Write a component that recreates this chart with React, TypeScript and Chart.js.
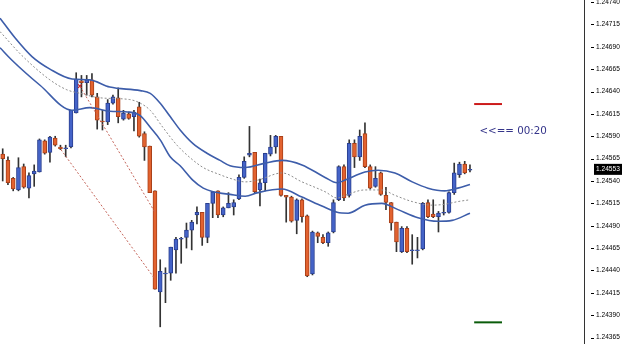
import React, { useEffect, useRef } from "react";
import { Chart, registerables } from "chart.js";

Chart.register(...registerables);

// ---- candle data (price) ----
const OPEN = [
  1.2457, 1.24563, 1.24543, 1.2453, 1.24556, 1.24532, 1.24548, 1.2455, 1.24585, 1.24572,
  1.24588, 1.24578, 1.24576, 1.24578, 1.24616, 1.24652, 1.2465, 1.24653, 1.24634, 1.24607,
  1.24606, 1.24627, 1.24633, 1.24609, 1.24615, 1.24612, 1.24623, 1.24593, 1.24579, 1.24529,
  1.24416, 1.24436, 1.24437, 1.24463, 1.24475, 1.24477, 1.24485, 1.24502, 1.24505, 1.24477,
  1.24515, 1.24529, 1.24502, 1.2451, 1.24511, 1.2452, 1.24544, 1.24569, 1.24572, 1.2453,
  1.24538, 1.2457, 1.24578, 1.2459, 1.24524, 1.24522, 1.24496, 1.24519, 1.24501, 1.24436,
  1.24482, 1.24477, 1.24471, 1.24483, 1.24519, 1.24556, 1.24524, 1.24582, 1.24567, 1.24593,
  1.24556, 1.24534, 1.24549, 1.24524, 1.24516, 1.24494, 1.24461, 1.24487, 1.24462, 1.24462,
  1.24464, 1.24516, 1.24503, 1.245, 1.24504, 1.24505, 1.24527, 1.24547, 1.24559, 1.24552,
];
const HIGH = [
  1.24576, 1.24567, 1.24544, 1.24566, 1.24559, 1.24549, 1.24558, 1.24587, 1.24586, 1.2459,
  1.2459, 1.2458, 1.2458, 1.24619, 1.24661, 1.24658, 1.24658, 1.2466, 1.24638, 1.24619,
  1.24631, 1.24636, 1.24644, 1.24619, 1.24617, 1.24619, 1.24628, 1.24595, 1.24579, 1.24529,
  1.24452, 1.24443, 1.24466, 1.24477, 1.24477, 1.24493, 1.24496, 1.24511, 1.24505, 1.24515,
  1.24528, 1.24529, 1.24511, 1.24527, 1.24519, 1.24547, 1.24567, 1.24601, 1.24572, 1.24542,
  1.24571, 1.24591, 1.24591, 1.2459, 1.24524, 1.24523, 1.2452, 1.2452, 1.24502, 1.24484,
  1.24483, 1.2448, 1.24483, 1.24519, 1.24557, 1.24558, 1.24586, 1.24586, 1.24597, 1.24605,
  1.24558, 1.24556, 1.2455, 1.24533, 1.24516, 1.24494, 1.24489, 1.24489, 1.2448, 1.24477,
  1.24516, 1.24519, 1.24519, 1.24506, 1.24519, 1.24528, 1.2456, 1.24561, 1.24562, 1.24558,
];
const LOW = [
  1.2454, 1.24536, 1.24529, 1.24529, 1.24532, 1.24521, 1.24534, 1.2455, 1.2457, 1.24561,
  1.24579, 1.24575, 1.24567, 1.24577, 1.24616, 1.24634, 1.24636, 1.24634, 1.24598, 1.24597,
  1.24603, 1.24626, 1.24605, 1.24608, 1.24609, 1.24596, 1.24589, 1.24563, 1.24527, 1.24419,
  1.24377, 1.24404, 1.24429, 1.24437, 1.24448, 1.24465, 1.24463, 1.24492, 1.24468, 1.24471,
  1.24499, 1.24499, 1.245, 1.2451, 1.24502, 1.24519, 1.24543, 1.24567, 1.24527, 1.24512,
  1.24529, 1.24568, 1.24571, 1.24523, 1.24494, 1.24494, 1.24481, 1.24494, 1.24433, 1.24435,
  1.24471, 1.2447, 1.24467, 1.24482, 1.24518, 1.24518, 1.24522, 1.24555, 1.24563, 1.24555,
  1.24531, 1.24533, 1.24524, 1.24508, 1.24485, 1.24461, 1.2446, 1.2446, 1.24447, 1.24454,
  1.24463, 1.24499, 1.24499, 1.24483, 1.24502, 1.24504, 1.24525, 1.24544, 1.24548, 1.2455,
];
const CLOSE = [
  1.24565, 1.24538, 1.24531, 1.24555, 1.24533, 1.24546, 1.24551, 1.24586, 1.24571, 1.24589,
  1.2458, 1.24576, 1.24577, 1.24619, 1.24654, 1.2465, 1.24653, 1.24636, 1.24608, 1.24606,
  1.24627, 1.24634, 1.24612, 1.24616, 1.2461, 1.24617, 1.2459, 1.24578, 1.24527, 1.24419,
  1.24439, 1.24437, 1.24466, 1.24475, 1.24476, 1.24485, 1.24494, 1.24505, 1.24477, 1.24515,
  1.24528, 1.24502, 1.2451, 1.24515, 1.24516, 1.24544, 1.24562, 1.24571, 1.24528, 1.24538,
  1.24571, 1.24578, 1.2459, 1.24524, 1.24522, 1.24495, 1.24519, 1.245, 1.24434, 1.24483,
  1.24478, 1.24471, 1.24482, 1.24516, 1.24556, 1.24521, 1.24582, 1.24567, 1.2459, 1.24556,
  1.24532, 1.24543, 1.24525, 1.24516, 1.24493, 1.24472, 1.24487, 1.24461, 1.24463, 1.24463,
  1.24515, 1.245, 1.245, 1.24504, 1.24505, 1.24527, 1.24549, 1.24559, 1.24549, 1.24553,
];

// ---- channel lines (bar index, price) ----
const UPPER_IDX = [-0.51, 2.34, 5.58, 9.0, 13.2, 16.6, 20.4, 26.2, 28.1, 30.0, 31.9, 33.8, 36.2, 38.9, 41.4, 43.3, 46.2, 50.0, 53.2, 57.0, 61.4, 63.7, 65.2, 69.0, 71.5, 74.7, 78.0, 81.0, 84.2, 86.7, 89.0];
const UPPER_VAL = [1.24722, 1.247, 1.24679, 1.24665, 1.24654, 1.24653, 1.24645, 1.24641, 1.24638, 1.24627, 1.24612, 1.24597, 1.24582, 1.24571, 1.24563, 1.24557, 1.24555, 1.2456, 1.24563, 1.24558, 1.24544, 1.24538, 1.24541, 1.2455, 1.24552, 1.24549, 1.24539, 1.24532, 1.24529, 1.24532, 1.24536];
const MIDDLE_IDX = [-0.51, 3.7, 9.0, 12.2, 14.7, 18.5, 24.2, 26.2, 28.1, 30.5, 33.2, 35.7, 38.2, 41.4, 43.3, 46.2, 48.6, 53.2, 57.0, 61.4, 63.7, 65.2, 69.0, 72.2, 74.7, 78.0, 81.8, 84.2, 86.7, 89.0];
const MIDDLE_VAL = [1.24707, 1.2468, 1.24653, 1.24642, 1.24638, 1.24633, 1.24631, 1.24627, 1.24619, 1.246, 1.2458, 1.24566, 1.24555, 1.24547, 1.24543, 1.24539, 1.24541, 1.24549, 1.24539, 1.24528, 1.24521, 1.24524, 1.2453, 1.2453, 1.24524, 1.24517, 1.24513, 1.24514, 1.24517, 1.24519];
const LOWER_IDX = [-0.51, 1.77, 7.11, 13.2, 16.6, 20.4, 24.2, 26.2, 28.1, 30.0, 31.9, 33.8, 36.2, 38.2, 40.1, 43.3, 46.2, 48.6, 53.2, 57.0, 60.8, 63.7, 65.8, 69.0, 72.2, 75.3, 79.1, 82.9, 85.6, 89.0];
const LOWER_VAL = [1.24689, 1.24675, 1.24647, 1.24619, 1.24622, 1.24618, 1.24617, 1.24613, 1.246, 1.24586, 1.24567, 1.24557, 1.24541, 1.24532, 1.24528, 1.24525, 1.24523, 1.24527, 1.24531, 1.24522, 1.24512, 1.24505, 1.24504, 1.24513, 1.24515, 1.24508, 1.24499, 1.24495, 1.24496, 1.24504];

// ---- trend lines / marks ----
const TREND_A_IDX = [14.7, 29.0];
const TREND_A_VAL = [1.24646, 1.24505];
const TREND_B_IDX = [11.1, 28.8];
const TREND_B_VAL = [1.24575, 1.24432];
const MARKER_IDX = [14.7];
const MARKER_VAL = [1.24646];
const LEVEL_IDX = [89.8, 95.1];
const RED_LEVEL = 1.24626;
const GREEN_LEVEL = 1.24382;
const TIMER_TEXT = "<<== 00:20";
const TIMER_IDX = 90.8;
const TIMER_VAL = 1.24596;
const CURRENT_PRICE = 1.24553;

// ---- axis ----
const Y_TICKS = [
  1.24365, 1.2439, 1.24415, 1.2444, 1.24465, 1.2449, 1.24515, 1.2454,
  1.24565, 1.2459, 1.24615, 1.2464, 1.24665, 1.2469, 1.24715, 1.2474,
];
const Y_MIN = 1.243578;
const Y_MAX = 1.247423;
const X_MIN = -0.514;
const X_MAX = 110.72;

const BLUE = "#4463c8";
const BLUE_EDGE = "#2a3f8f";
const ORANGE = "#e2622f";
const ORANGE_EDGE = "#a8401a";
const BAND = "#3d5daa";

function pts(xs: number[], ys: number[]) {
  return xs.map((x, i) => ({ x, y: ys[i] }));
}

const overlay = {
  id: "overlay",
  afterDraw(chart: any) {
    const { ctx } = chart;
    const xs = chart.scales.x;
    const ys = chart.scales.y;
    ctx.save();
    ctx.strokeStyle = "#000";
    ctx.lineWidth = 1;
    ys.ticks.forEach((t: any) => {
      const y = Math.round(ys.getPixelForValue(t.value)) + 0.5;
      ctx.beginPath();
      ctx.moveTo(ys.left + 7, y);
      ctx.lineTo(ys.left + 10, y);
      ctx.stroke();
    });
    const py = ys.getPixelForValue(CURRENT_PRICE);
    ctx.fillStyle = "#000";
    ctx.fillRect(ys.left + 10, py - 5.5, 28, 11);
    ctx.fillStyle = "#fff";
    ctx.font = '6.6px "Liberation Sans"';
    ctx.textBaseline = "middle";
    ctx.textAlign = "left";
    ctx.fillText(CURRENT_PRICE.toFixed(5), ys.left + 12, py);
    ctx.fillStyle = "#35358a";
    ctx.font = '10.3px "DejaVu Sans"';
    ctx.fillText(TIMER_TEXT, xs.getPixelForValue(TIMER_IDX), ys.getPixelForValue(TIMER_VAL));
    ctx.restore();
  },
};

export default function App() {
  const ref = useRef<HTMLCanvasElement>(null);
  useEffect(() => {
    const canvas = ref.current!;
    const idx = OPEN.map((_, i) => i);
    const up = idx.map((i) => CLOSE[i] >= OPEN[i]);
    const chart = new Chart(canvas, {
      type: "bar",
      data: {
        datasets: [
          {
            type: "bar",
            data: idx.map((i) => ({ x: i, y: [LOW[i], HIGH[i]] })) as any,
            backgroundColor: "#333",
            borderWidth: 0,
            barThickness: 1,
            grouped: false,
            order: 3,
          } as any,
          {
            type: "bar",
            data: idx.map((i) => ({ x: i, y: [OPEN[i], CLOSE[i]] })) as any,
            backgroundColor: up.map((u) => (u ? BLUE : ORANGE)),
            borderColor: up.map((u) => (u ? BLUE_EDGE : ORANGE_EDGE)),
            borderWidth: 1,
            borderSkipped: false,
            barThickness: 4,
            grouped: false,
            order: 2,
          } as any,
          {
            type: "line",
            data: pts(UPPER_IDX, UPPER_VAL),
            borderColor: BAND,
            borderWidth: 1.6,
            pointRadius: 0,
            cubicInterpolationMode: "monotone",
            order: 1,
          } as any,
          {
            type: "line",
            data: pts(LOWER_IDX, LOWER_VAL),
            borderColor: BAND,
            borderWidth: 1.6,
            pointRadius: 0,
            cubicInterpolationMode: "monotone",
            order: 1,
          } as any,
          {
            type: "line",
            data: pts(MIDDLE_IDX, MIDDLE_VAL),
            borderColor: "#8c8c8c",
            borderWidth: 1,
            borderDash: [2, 2],
            pointRadius: 0,
            cubicInterpolationMode: "monotone",
            order: 1,
          } as any,
          {
            type: "line",
            data: pts(TREND_A_IDX, TREND_A_VAL),
            borderColor: "#c4655a",
            borderWidth: 1,
            borderDash: [2, 2],
            pointRadius: 0,
            order: 0,
          } as any,
          {
            type: "line",
            data: pts(TREND_B_IDX, TREND_B_VAL),
            borderColor: "#c4655a",
            borderWidth: 1,
            borderDash: [2, 2],
            pointRadius: 0,
            order: 0,
          } as any,
          {
            type: "line",
            data: pts(MARKER_IDX, MARKER_VAL),
            showLine: false,
            pointStyle: "crossRot",
            pointRadius: 2.5,
            pointBorderColor: "#cc2222",
            pointBorderWidth: 1.2,
            order: 0,
          } as any,
          {
            type: "line",
            data: pts(LEVEL_IDX, [RED_LEVEL, RED_LEVEL]),
            borderColor: "#cc1a1a",
            borderWidth: 2,
            pointRadius: 0,
            order: 0,
          } as any,
          {
            type: "line",
            data: pts(LEVEL_IDX, [GREEN_LEVEL, GREEN_LEVEL]),
            borderColor: "#0a5c0a",
            borderWidth: 2,
            pointRadius: 0,
            order: 0,
          } as any,
        ],
      },
      options: {
        animation: false,
        responsive: false,
        devicePixelRatio: 1,
        layout: { padding: 0, autoPadding: false },
        plugins: { legend: { display: false }, tooltip: { enabled: false } },
        scales: {
          x: { type: "linear", min: X_MIN, max: X_MAX, display: false, offset: false },
          y: {
            type: "linear",
            position: "right",
            min: Y_MIN,
            max: Y_MAX,
            afterBuildTicks: (s: any) => {
              s.ticks = Y_TICKS.map((v) => ({ value: v }));
            },
            afterFit: (s: any) => {
              s.width = 41;
              s.paddingTop = 0;
              s.paddingBottom = 0;
            },
            grid: { drawOnChartArea: false, drawTicks: false },
            border: { display: true, color: "#333", width: 1 },
            ticks: {
              padding: 12,
              color: "#000",
              autoSkip: false,
              font: { family: "Liberation Sans", size: 6.6 },
              callback: (v: any) => Number(v).toFixed(5),
            },
          },
        },
      } as any,
      plugins: [overlay],
    });
    return () => chart.destroy();
  }, []);
  return (
    <div style={{ position: "fixed", left: 0, top: 0, width: 625, height: 344, background: "#fff" }}>
      <canvas ref={ref} width={625} height={344} style={{ display: "block" }} />
    </div>
  );
}
